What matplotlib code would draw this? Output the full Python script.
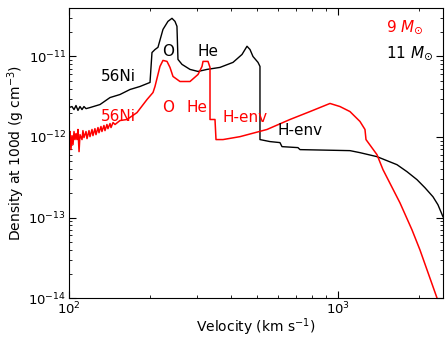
# -*- coding: utf-8 -*-
"""
Density at 100d versus velocity for the 9 and 11 Msun models
"""
######################################################################################################
# Import packages
import numpy as np
import matplotlib
matplotlib.use('Agg')
import matplotlib.pyplot as plt

######################################################################################################
# Data
# 11 Msun model (black)
v11 = [100, 102.6, 104.4, 106.2, 108.0, 109.9, 111.8, 113.7, 115.7, 119.7,
       130.4, 142.1, 154.7, 168.6, 183.6, 200.1, 203.5, 208.8, 214.2, 223.6,
       233.3, 241.5, 247.8, 252.0, 254.2, 263.1, 281.8, 301.8, 325.9, 364.2,
       407.2, 439.8, 459.0, 471.0, 483.1, 504.3, 512.9, 512.9, 558.7, 608.6,
       619.2, 710.0, 722.4, 1108, 1207, 1396, 1657, 1805, 1967, 2106, 2255, 2353, 2457]
rho11 = [2.32e-12, 2.39e-12, 2.19e-12, 2.46e-12, 2.14e-12, 2.39e-12, 2.19e-12, 2.39e-12, 2.25e-12, 2.32e-12,
         2.53e-12, 3.09e-12, 3.37e-12, 3.89e-12, 4.24e-12, 4.76e-12, 1.12e-11, 1.22e-11, 1.30e-11, 2.17e-11,
         2.73e-11, 2.98e-11, 2.73e-11, 2.37e-11, 9.2e-12, 7.98e-12, 6.91e-12, 6.52e-12, 6.91e-12, 7.32e-12,
         8.45e-12, 1.06e-11, 1.34e-11, 1.22e-11, 1.0e-11, 8.45e-12, 7.53e-12, 9.29e-13, 8.77e-13, 8.52e-13,
         7.59e-13, 7.38e-13, 6.97e-13, 6.77e-13, 6.39e-13, 5.70e-13, 4.53e-13, 3.71e-13, 2.95e-13, 2.34e-13, 1.81e-13, 1.44e-13, 1.02e-13]

# 9 Msun model (red)
v9 = [100, 100.9, 101.7, 102.6, 103.5, 104.4, 105.3, 106.2, 107.1, 108.0,
      109.0, 109.9, 111.8, 112.7, 113.7, 115.7, 116.7, 118.7, 119.7, 121.8,
      122.8, 124.9, 126.0, 128.2, 129.3, 131.5, 132.6, 134.9, 136.1, 138.4,
      139.6, 142.1, 143.3, 145.8, 148.3, 154.7, 164.3, 179.0, 195.0, 205.3,
      208.8, 217.9, 223.6, 231.4, 237.4, 243.6, 258.6, 281.8, 301.8, 312.3,
      315.0, 328.7, 334.4, 334.4, 349.0, 352.0, 373.7, 432.3, 544.6, 663.1,
      787.0, 933.9, 1017, 1108, 1207, 1260, 1271, 1396, 1470, 1700,
      1884, 2017, 2334, 2500]
rho9 = [9.29e-13, 1.17e-12, 6.97e-13, 1.04e-12, 8.04e-13, 1.17e-12, 9.29e-13, 1.10e-12, 9.29e-13, 1.24e-12,
        6.58e-13, 1.07e-12, 9.29e-13, 1.20e-12, 9.83e-13, 1.17e-12, 9.55e-13, 1.20e-12, 1.01e-12, 1.24e-12,
        1.04e-12, 1.27e-12, 1.07e-12, 1.31e-12, 1.13e-12, 1.35e-12, 1.17e-12, 1.39e-12, 1.20e-12, 1.43e-12,
        1.27e-12, 1.47e-12, 1.31e-12, 1.51e-12, 1.43e-12, 1.60e-12, 1.65e-12, 2.01e-12, 2.92e-12, 3.57e-12,
        4.24e-12, 7.53e-12, 8.94e-12, 8.69e-12, 7.32e-12, 5.65e-12, 4.89e-12, 4.89e-12, 5.98e-12, 7.53e-12,
        8.69e-12, 8.69e-12, 7.32e-12, 1.65e-12, 1.65e-12, 9.29e-13, 9.29e-13, 1.01e-12, 1.24e-12, 1.65e-12,
        2.07e-12, 2.61e-12, 2.39e-12, 2.07e-12, 1.56e-12, 1.24e-12, 9.29e-13, 6.04e-13, 3.93e-13, 1.52e-13,
        7.03e-14, 3.96e-14, 1.0e-14, 5.0e-15]

# Region labels: (text, velocity, density)
labels11 = [('56Ni', 152, 5.65e-12), ('O', 233, 1.16e-11), ('He', 329, 1.16e-11), ('H-env', 722, 1.20e-12)]
labels9 = [('56Ni', 152, 1.80e-12), ('O', 233, 2.32e-12), ('He', 299, 2.32e-12), ('H-env', 451, 1.75e-12)]

######################################################################################################
# Plot
fig = plt.figure(figsize=(4.45, 3.37), dpi=100)
ax = fig.add_axes([0.155, 0.1157, 0.8404, 0.8605])

ax.plot(v11, rho11, color='black', linewidth=1.0)
ax.plot(v9, rho9, color='red', linewidth=1.1)

for txt, xv, yv in labels11:
    ax.text(xv, yv, txt, color='black', fontsize=11, ha='center', va='center')
for txt, xv, yv in labels9:
    ax.text(xv, yv, txt, color='red', fontsize=11, ha='center', va='center')

ax.text(0.848, 0.934, r'9 $M_{\odot}$', color='red', fontsize=11, transform=ax.transAxes, va='center')
ax.text(0.848, 0.845, r'11 $M_{\odot}$', color='black', fontsize=11, transform=ax.transAxes, va='center')

ax.set_xscale('log')
ax.set_yscale('log')
ax.set_xlim(100, 2456)
ax.set_ylim(1e-14, 4e-11)
ax.set_xlabel(r'Velocity (km s$^{-1}$)', fontsize=10, labelpad=-1)
ax.set_ylabel(r'Density at 100d (g cm$^{-3}$)', fontsize=10, labelpad=1)
ax.tick_params(which='both', direction='in', top=True, right=True, labelsize=9.5, pad=2)
ax.tick_params(which='major', length=5)
ax.tick_params(which='minor', length=2.5)

fig.savefig('out.png', dpi=100)
